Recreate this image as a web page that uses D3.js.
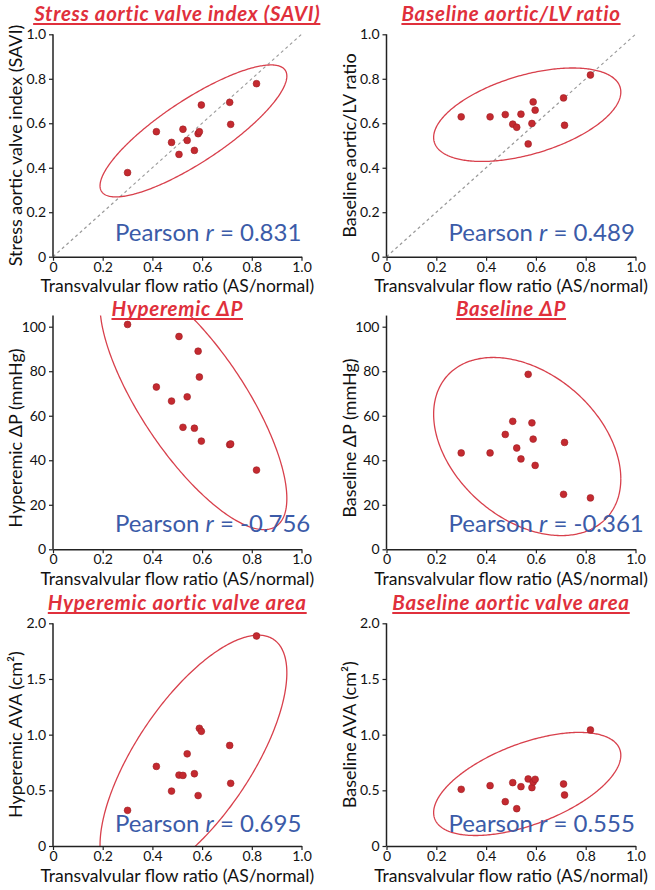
<!DOCTYPE html>
<html>
<head>
<meta charset="utf-8">
<script src="https://cdn.jsdelivr.net/npm/d3@7"></script>
<style>
  html, body { margin: 0; padding: 0; background: #fff; }
  svg { display: block; }
  text { font-family: Lato, "Open Sans", sans-serif; }
</style>
</head>
<body>
<svg id="chart" width="655" height="890"></svg>
<script>
// ---------------- data ----------------
const flowRatio = [0.300, 0.416, 0.477, 0.507, 0.523, 0.540, 0.569, 0.584, 0.589, 0.597, 0.711, 0.715, 0.819];

const savi          = [0.378, 0.562, 0.514, 0.460, 0.573, 0.523, 0.478, 0.553, 0.562, 0.682, 0.694, 0.595, 0.778];
const baselineRatio = [0.629, 0.629, 0.639, 0.596, 0.582, 0.641, 0.507, 0.599, 0.696, 0.659, 0.714, 0.591, 0.817];
const hyperemicDP   = [101.0, 72.9, 66.6, 95.6, 54.8, 68.5, 54.4, 89.0, 77.4, 48.6, 47.0, 47.3, 35.6];
const baselineDP    = [43.3, 43.3, 51.6, 57.5, 45.5, 40.6, 78.6, 56.8, 49.5, 37.7, 24.7, 48.0, 23.1];
const hyperemicAVA  = [0.320, 0.715, 0.493, 0.637, 0.634, 0.828, 0.649, 0.453, 1.057, 1.030, 0.903, 0.563, 1.886];
const baselineAVA   = [0.509, 0.542, 0.398, 0.569, 0.335, 0.533, 0.602, 0.524, 0.575, 0.599, 0.557, 0.458, 1.042];

const panelTitles = ["Stress aortic valve index (SAVI)", "Baseline aortic/LV ratio",
                     "Hyperemic \u0394P", "Baseline \u0394P",
                     "Hyperemic aortic valve area", "Baseline aortic valve area"];
const yTitles = ["Stress aortic valve index (SAVI)", "Baseline aortic/LV ratio",
                 "Hyperemic \u0394P (mmHg)", "Baseline \u0394P (mmHg)",
                 "Hyperemic AVA (cm\u00B2)", "Baseline AVA (cm\u00B2)"];
const xTitle = "Transvalvular flow ratio (AS/normal)";
const pearsonR = ["0.831", "0.489", "-0.756", "-0.361", "0.695", "0.555"];

const xTicks = [0, 0.2, 0.4, 0.6, 0.8, 1.0];
const yTicksRatio = [0, 0.2, 0.4, 0.6, 0.8, 1.0];
const yTicksDP = [0, 20, 40, 60, 80, 100];
const yTicksAVA = [0, 0.5, 1.0, 1.5, 2.0];

const seriesList = [savi, baselineRatio, hyperemicDP, baselineDP, hyperemicAVA, baselineAVA];
const yMaxList = [1.0, 1.0, 105, 105, 2.0, 2.0];
const yTickList = [yTicksRatio, yTicksRatio, yTicksDP, yTicksDP, yTicksAVA, yTicksAVA];
const showDiagonal = [true, true, false, false, false, false];

// ---------------- layout ----------------
const cols = [{x0: 53, x1: 301.5}, {x0: 386.5, x1: 635.5}];
const rows = [
  {yZero: 256.7, pxPerUnitSpan: 222.4, titleY: 20.5, xTitleY: 292, rY: 240.7},
  {yZero: 549.3, pxPerUnitSpan: 222.6, titleY: 315.5, xTitleY: 585, rY: 532.3},
  {yZero: 846, pxPerUnitSpan: 222.7, titleY: 609.5, xTitleY: 881.5, rY: 831.7}
];

const RED = "#e0303c";
const BLUE = "#3b5ba8";
const DOT = "#c42a30";
const ELL = "#d8404c";
const K = 2.8; // ellipse scale in standard deviations

const svg = d3.select("#chart");
const defs = svg.append("defs");

function fmtTick(v, isDP) {
  if (v === 0) return "0";
  return isDP ? String(v) : d3.format(".1f")(v);
}

function ellipsePoints(xs, ys) {
  const n = xs.length;
  const mx = d3.mean(xs), my = d3.mean(ys);
  let sxx = 0, syy = 0, sxy = 0;
  for (let i = 0; i < n; i++) {
    const dx = xs[i] - mx, dy = ys[i] - my;
    sxx += dx * dx; syy += dy * dy; sxy += dx * dy;
  }
  sxx /= (n - 1); syy /= (n - 1); sxy /= (n - 1);
  const l11 = Math.sqrt(sxx);
  const l21 = sxy / l11;
  const l22 = Math.sqrt(Math.max(syy - l21 * l21, 0));
  const pts = [];
  for (let i = 0; i <= 360; i++) {
    const t = i / 360 * 2 * Math.PI;
    const c = Math.cos(t), s = Math.sin(t);
    pts.push([mx + K * l11 * c, my + K * (l21 * c + l22 * s)]);
  }
  return pts;
}

seriesList.forEach((ys, idx) => {
  const col = cols[idx % 2];
  const row = rows[Math.floor(idx / 2)];
  const yMax = yMaxList[idx];
  const isDP = (idx === 2 || idx === 3);
  const unitMax = isDP ? 100 : (yMax === 2.0 ? 2.0 : 1.0);

  const x = d3.scaleLinear().domain([0, 1]).range([col.x0, col.x1]);
  const yTopTick = row.yZero - row.pxPerUnitSpan;
  const y = d3.scaleLinear().domain([0, unitMax]).range([row.yZero, yTopTick]);
  const yTopPx = y(yMax);

  const g = svg.append("g");

  const clipId = "clip" + idx;
  defs.append("clipPath").attr("id", clipId)
    .append("rect")
    .attr("x", x(0)).attr("y", yTopPx)
    .attr("width", x(1) - x(0)).attr("height", y(0) - yTopPx);

  if (showDiagonal[idx]) {
    g.append("line")
      .attr("x1", x(0)).attr("y1", y(0))
      .attr("x2", x(1)).attr("y2", y(1))
      .attr("stroke", "#9a9a9a").attr("stroke-width", 1.2)
      .attr("stroke-dasharray", "3,3");
  }

  const ell = ellipsePoints(flowRatio, ys);
  g.append("path")
    .attr("clip-path", `url(#${clipId})`)
    .attr("d", d3.line().x(d => x(d[0])).y(d => y(d[1]))(ell))
    .attr("fill", "none").attr("stroke", ELL).attr("stroke-width", 1.3);

  const xAxis = d3.axisBottom(x).tickValues(xTicks).tickFormat(v => fmtTick(v, false))
    .tickSizeInner(4).tickSizeOuter(0).tickPadding(1);
  const yAxis = d3.axisLeft(y).tickValues(yTickList[idx]).tickFormat(v => fmtTick(v, isDP))
    .tickSizeInner(4).tickSizeOuter(0).tickPadding(3);

  const gx = g.append("g").attr("transform", `translate(0,${y(0)})`).call(xAxis);
  const gy = g.append("g").attr("transform", `translate(${x(0)},0)`).call(yAxis);
  gy.select(".domain").attr("d", `M0,${y(0)}V${yTopPx}`);
  [gx, gy].forEach(a => {
    a.selectAll(".domain").attr("stroke", "#222").attr("stroke-width", 1.5);
    a.selectAll(".tick line").attr("stroke", "#222").attr("stroke-width", 1.2);
    a.selectAll(".tick text").attr("font-size", 14).attr("fill", "#111")
      .style("font-family", "Lato, 'Open Sans', sans-serif");
  });

  g.selectAll("circle.pt").data(flowRatio.map((fx, i) => [fx, ys[i]]))
    .join("circle").attr("class", "pt")
    .attr("cx", d => x(d[0])).attr("cy", d => y(d[1]))
    .attr("r", 3.4).attr("fill", DOT).attr("stroke", "#a01e24").attr("stroke-width", 0.6);

  const cx = (col.x0 + col.x1) / 2;
  const title = g.append("text")
    .attr("x", cx).attr("y", row.titleY)
    .attr("text-anchor", "middle")
    .attr("font-size", 20.5).attr("font-weight", "bold").attr("font-style", "italic")
    .attr("letter-spacing", 0.7)
    .attr("fill", RED)
    .text(panelTitles[idx]);
  const bb = title.node().getBBox();
  g.append("line")
    .attr("x1", bb.x).attr("x2", bb.x + bb.width)
    .attr("y1", row.titleY + 3.5).attr("y2", row.titleY + 3.5)
    .attr("stroke", RED).attr("stroke-width", 1.8);

  g.append("text")
    .attr("x", cx).attr("y", row.xTitleY)
    .attr("text-anchor", "middle").attr("font-size", 17.5).attr("fill", "#111")
    .text(xTitle);

  const ytx = col.x0 - 31;
  g.append("text")
    .attr("transform", `translate(${ytx},${(y(0) + y(unitMax)) / 2}) rotate(-90)`)
    .attr("text-anchor", "middle").attr("font-size", 18).attr("fill", "#111")
    .text(yTitles[idx]);

  const pt = g.append("text")
    .attr("x", col.x0 + 62).attr("y", row.rY)
    .attr("font-size", 24).attr("fill", BLUE);
  pt.append("tspan").text("Pearson ");
  pt.append("tspan").attr("font-style", "italic").text("r");
  pt.append("tspan").text(" = " + pearsonR[idx]);
});
</script>
</body>
</html>
